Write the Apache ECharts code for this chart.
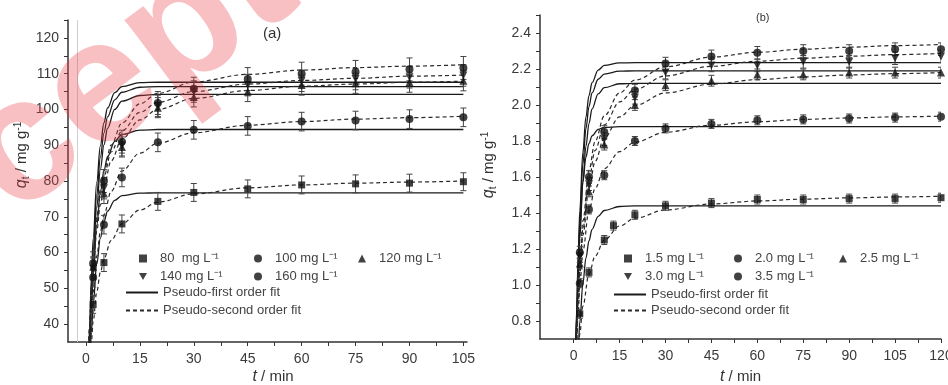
<!DOCTYPE html>
<html>
<head>
<meta charset="utf-8">
<title>Adsorption kinetics</title>
<script src="https://cdn.jsdelivr.net/npm/echarts@6/dist/echarts.min.js"></script>
<style>
  html, body { margin: 0; padding: 0; background: #fff; }
  #chart { width: 948px; height: 385px; }
</style>
</head>
<body>
<div id="chart"></div>
<script>
// ---- panel (a) : measured points ----
const timeA = [2, 5, 10, 20, 30, 45, 60, 75, 90, 105];
const namesA = ['80  mg L⁻¹', '100 mg L⁻¹', '120 mg L⁻¹', '140 mg L⁻¹', '160 mg L⁻¹'];
const qA80 = [45.5, 57.2, 68.0, 74.3, 76.8, 77.8, 78.9, 79.2, 79.4, 79.8];
const qA100 = [53.0, 67.8, 81.0, 90.8, 94.3, 95.4, 96.6, 96.9, 97.3, 97.8];
const qA120 = [56.0, 76.5, 89.5, 100.5, 103.5, 105.0, 106.8, 107.3, 107.6, 108.0];
const qA140 = [55.5, 78.0, 90.0, 101.0, 105.0, 106.8, 108.0, 108.5, 109.0, 109.5];
const qA160 = [57.0, 80.0, 91.0, 101.8, 105.8, 108.5, 110.0, 110.5, 111.2, 111.6];
const errA = [2.5, 2.6, 2.8, 3.0, 3.2];

// ---- panel (a) : fitted curves ----
const fitTimeA1 = [0.5, 1, 1.5, 2, 3, 4, 5, 6, 8, 10, 15, 20, 105];
const pfoA80 = [15.4, 27.8, 37.7, 45.5, 56.8, 64.0, 68.6, 71.6, 74.6, 75.9, 76.6, 76.7, 76.7];
const pfoA100 = [17.8, 32.4, 44.1, 53.6, 67.6, 76.8, 82.9, 86.8, 91.1, 93.0, 94.2, 94.4, 94.4];
const pfoA120 = [18.9, 34.4, 47.0, 57.4, 72.8, 83.2, 90.1, 94.7, 100.0, 102.3, 103.9, 104.2, 104.2];
const pfoA140 = [20.1, 36.5, 49.7, 60.4, 76.2, 86.6, 93.4, 97.9, 102.7, 104.8, 106.2, 106.4, 106.4];
const pfoA160 = [21.6, 39.0, 52.8, 63.8, 79.7, 89.8, 96.3, 100.4, 104.7, 106.4, 107.5, 107.6, 107.6];

const fitTimeA2 = [0.5, 1, 1.5, 2, 3, 4, 5, 7, 10, 15, 20, 30, 45, 60, 75, 90, 105];
const psoA80 = [16.3, 27.2, 35.0, 40.8, 49.0, 54.4, 58.3, 63.4, 68.0, 71.9, 74.1, 76.4, 78.1, 78.9, 79.4, 79.7, 80.0];
const psoA100 = [19.4, 32.4, 41.9, 49.0, 59.0, 65.8, 70.6, 77.1, 82.8, 87.8, 90.6, 93.5, 95.6, 96.6, 97.3, 97.7, 98.1];
const psoA120 = [22.0, 36.7, 47.1, 55.0, 66.0, 73.3, 78.6, 85.6, 91.7, 97.1, 100.0, 103.1, 105.3, 106.5, 107.1, 107.6, 107.9];
const psoA140 = [23.6, 39.0, 49.8, 57.8, 68.9, 76.1, 81.3, 88.1, 94.0, 99.2, 102.0, 105.0, 107.1, 108.1, 108.7, 109.3, 109.6];
const psoA160 = [23.8, 39.4, 50.4, 58.6, 70.0, 77.5, 82.9, 90.0, 96.2, 101.6, 104.5, 107.7, 109.8, 111.0, 111.7, 112.1, 112.5];

// ---- panel (b) : measured points ----
const timeB = [2, 5, 10, 13, 20, 30, 45, 60, 75, 90, 105, 120];
const namesB = ['1.5 mg L⁻¹', '2.0 mg L⁻¹', '2.5 mg L⁻¹', '3.0 mg L⁻¹', '3.5 mg L⁻¹'];
const qB15 = [0.84, 1.07, 1.25, 1.33, 1.39, 1.44, 1.455, 1.475, 1.475, 1.48, 1.48, 1.485];
const qB20 = [1.01, 1.42, 1.61, null, 1.80, 1.87, 1.895, 1.915, 1.92, 1.925, 1.93, 1.935];
const qB25 = [1.12, 1.52, 1.78, null, 2.00, 2.11, 2.135, 2.17, 2.17, 2.18, 2.18, 2.18];
const qB30 = [1.16, 1.56, 1.81, null, 2.04, 2.18, 2.22, 2.22, 2.24, 2.24, 2.26, 2.27];
const qB35 = [1.18, 1.60, 1.85, null, 2.08, 2.23, 2.27, 2.29, 2.30, 2.30, 2.31, 2.31];
const errB = [0.025, 0.025, 0.03, 0.035, 0.035];

// ---- panel (b) : fitted curves ----
const fitTimeB1 = [0.5, 1, 1.5, 2, 3, 4, 5, 6, 8, 10, 15, 20, 120];
const pfoB15 = [0.261, 0.475, 0.650, 0.793, 1.006, 1.149, 1.245, 1.309, 1.381, 1.414, 1.436, 1.44, 1.44];
const pfoB20 = [0.487, 0.848, 1.115, 1.314, 1.570, 1.709, 1.786, 1.829, 1.865, 1.875, 1.88, 1.88, 1.88];
const pfoB25 = [0.426, 0.767, 1.041, 1.257, 1.571, 1.770, 1.897, 1.978, 2.062, 2.096, 2.118, 2.12, 2.12];
const pfoB30 = [0.467, 0.835, 1.124, 1.351, 1.671, 1.868, 1.991, 2.067, 2.143, 2.172, 2.188, 2.19, 2.19];
const pfoB35 = [0.494, 0.879, 1.180, 1.413, 1.737, 1.933, 2.052, 2.124, 2.194, 2.220, 2.234, 2.235, 2.235];

const fitTimeB2 = [1, 1.5, 2, 3, 5, 7, 10, 15, 20, 30, 45, 60, 75, 90, 105, 120];
const psoB15 = [0.479, 0.621, 0.729, 0.882, 1.060, 1.160, 1.249, 1.328, 1.371, 1.417, 1.450, 1.467, 1.477, 1.484, 1.489, 1.493];
const psoB20 = [0.663, 0.852, 0.993, 1.189, 1.413, 1.537, 1.646, 1.741, 1.793, 1.849, 1.888, 1.907, 1.920, 1.928, 1.934, 1.938];
const psoB25 = [0.690, 0.895, 1.052, 1.276, 1.537, 1.686, 1.818, 1.934, 1.998, 2.067, 2.116, 2.141, 2.156, 2.167, 2.174, 2.180];
const psoB30 = [0.700, 0.913, 1.076, 1.311, 1.589, 1.748, 1.890, 2.017, 2.087, 2.162, 2.215, 2.243, 2.260, 2.271, 2.280, 2.286];
const psoB35 = [0.729, 0.948, 1.116, 1.356, 1.638, 1.798, 1.940, 2.067, 2.138, 2.212, 2.266, 2.293, 2.310, 2.321, 2.330, 2.336];

// ---- ticks ----
const xLabelsA = [0, 15, 30, 45, 60, 75, 90, 105];
const xTicksA = [0, 7.5, 15, 22.5, 30, 37.5, 45, 52.5, 60, 67.5, 75, 82.5, 90, 97.5, 105];
const yLabelsA = [40, 50, 60, 70, 80, 90, 100, 110, 120];
const yTicksA = [40, 45, 50, 55, 60, 65, 70, 75, 80, 85, 90, 95, 100, 105, 110, 115, 120, 125];
const xLabelsB = [0, 15, 30, 45, 60, 75, 90, 105, 120];
const xTicksB = [0, 7.5, 15, 22.5, 30, 37.5, 45, 52.5, 60, 67.5, 75, 82.5, 90, 97.5, 105, 112.5, 120];
const yLabelsB = [0.8, 1.0, 1.2, 1.4, 1.6, 1.8, 2.0, 2.2, 2.4];
const yTicksB = [0.8, 0.9, 1.0, 1.1, 1.2, 1.3, 1.4, 1.5, 1.6, 1.7, 1.8, 1.9, 2.0, 2.1, 2.2, 2.3, 2.4, 2.5];

const FONT = 'Liberation Sans';
const INK = '#111';
const PFO = 'Pseudo-first order fit';
const PSO = 'Pseudo-second order fit';
const DOWN_TRIANGLE = 'path://M0,0L10,0L5,9Z';
const symbols = [
  { symbol: 'rect', symbolSize: 7, symbolRotate: 0 },
  { symbol: 'circle', symbolSize: 8, symbolRotate: 0 },
  { symbol: 'triangle', symbolSize: 8, symbolRotate: 0 },
  { symbol: DOWN_TRIANGLE, symbolSize: 8, symbolRotate: 0 },
  { symbol: 'circle', symbolSize: 8, symbolRotate: 0 }
];

function zip(xs, ys) {
  return xs.map((x, i) => [x, ys[i]]).filter(d => d[1] != null);
}

function errorBar(params, api) {
  const x = api.value(0);
  const top = api.coord([x, api.value(2)]);
  const bot = api.coord([x, api.value(1)]);
  const w = 3;
  const style = { stroke: '#444', lineWidth: 1 };
  return {
    type: 'group',
    children: [
      { type: 'line', shape: { x1: top[0], y1: top[1], x2: bot[0], y2: bot[1] }, style },
      { type: 'line', shape: { x1: top[0] - w, y1: top[1], x2: top[0] + w, y2: top[1] }, style },
      { type: 'line', shape: { x1: bot[0] - w, y1: bot[1], x2: bot[0] + w, y2: bot[1] }, style }
    ]
  };
}

function fitLine(name, idx, xs, ys, dashed) {
  return {
    name, type: 'line', xAxisIndex: idx, yAxisIndex: idx,
    data: zip(xs, ys), symbol: 'none', showSymbol: false,
    smooth: 0.35, smoothMonotone: 'x', clip: true, silent: true, z: 2,
    itemStyle: { color: '#1a1a1a' },
    lineStyle: dashed ? { color: '#2a2a2a', width: 1.2, type: [4, 3] } : { color: '#1a1a1a', width: 1.3 }
  };
}

function panelSeries(idx, times, names, values, errs, ft1, pfo, ft2, pso) {
  const out = [];
  pfo.forEach(ys => out.push(fitLine(PFO, idx, ft1, ys, false)));
  pso.forEach(ys => out.push(fitLine(PSO, idx, ft2, ys, true)));
  values.forEach((ys, k) => {
    out.push({
      type: 'custom', xAxisIndex: idx, yAxisIndex: idx, silent: true, z: 3, clip: true,
      renderItem: errorBar, encode: { x: 0, y: [1, 2] },
      data: zip(times, ys).map(d => [d[0], d[1] - errs[k], d[1] + errs[k]])
    });
    out.push(Object.assign({
      name: names[k], type: 'scatter', xAxisIndex: idx, yAxisIndex: idx, z: 4, silent: true,
      itemStyle: { color: INK }, data: zip(times, ys)
    }, symbols[k]));
  });
  return out;
}

const seriesA = panelSeries(0, timeA, namesA, [qA80, qA100, qA120, qA140, qA160], errA,
  fitTimeA1, [pfoA80, pfoA100, pfoA120, pfoA140, pfoA160],
  fitTimeA2, [psoA80, psoA100, psoA120, psoA140, psoA160]);
// faint vertical guide line seen in panel (a)
seriesA[0].markLine = {
  silent: true, symbol: 'none', label: { show: false },
  lineStyle: { color: '#cfcfcf', width: 1, type: 'solid' },
  data: [{ xAxis: -2.3 }]
};
const seriesB = panelSeries(1, timeB, namesB, [qB15, qB20, qB25, qB30, qB35], errB,
  fitTimeB1, [pfoB15, pfoB20, pfoB25, pfoB30, pfoB35],
  fitTimeB2, [psoB15, psoB20, psoB25, psoB30, psoB35]);

const nameRich = {
  i: { fontStyle: 'italic', fontSize: 16, fontFamily: FONT, color: '#333', lineHeight: 18 },
  s: { fontSize: 10, fontFamily: FONT, color: '#333', verticalAlign: 'bottom', lineHeight: 18 },
  n: { fontSize: 15, fontFamily: FONT, color: '#333', lineHeight: 18 },
  p: { fontSize: 10, fontFamily: FONT, color: '#333', verticalAlign: 'top', lineHeight: 18 }
};

function xAxisOf(idx, min, max, labels, ticks, nameGap, pad) {
  return {
    type: 'value', gridIndex: idx, min, max,
    name: '{i|t}{n| / min}', nameLocation: 'middle', nameGap, nameMoveOverlap: false,
    nameTextStyle: { rich: nameRich, padding: [0, 0, 0, pad] },
    axisLine: { show: true, onZero: false, lineStyle: { color: '#333', width: 1.5 } },
    axisTick: { show: true, inside: false, length: 4, customValues: ticks, lineStyle: { color: '#333' } },
    axisLabel: { customValues: labels, margin: 10, fontSize: 14, color: '#3a3a3a', fontFamily: FONT },
    splitLine: { show: false }
  };
}

function yAxisOf(idx, min, max, labels, ticks, fmt, nameGap, pad) {
  return {
    type: 'value', gridIndex: idx, min, max,
    name: '{i|q}{s|t}{n| / mg g}{p|-1}', nameLocation: 'middle', nameGap, nameMoveOverlap: false,
    nameTextStyle: { rich: nameRich, padding: [0, 0, 0, pad] },
    axisLine: { show: true, onZero: false, lineStyle: { color: '#333', width: 1.5 } },
    axisTick: { show: true, inside: false, length: 4, customValues: ticks, lineStyle: { color: '#333' } },
    axisLabel: { customValues: labels, margin: 9, fontSize: 14, color: '#3a3a3a', fontFamily: FONT, formatter: fmt },
    splitLine: { show: false }
  };
}

// marker entries: 8px symbol, text pushed right to sit ~17px from the marker centre
function markerLegend(name, centre, top, icon) {
  return {
    data: [icon ? { name, icon } : name], left: centre - 4, top, padding: 0,
    itemWidth: 8, itemHeight: 8, itemGap: 0, selectedMode: false,
    textStyle: { fontSize: 13, color: '#444', fontFamily: FONT, padding: [0, 0, 0, 8] }
  };
}
// fit entries: plain line sample, no dot
function lineLegend(name, left, top) {
  return {
    data: [name], left, top, padding: 0, itemWidth: 32, itemHeight: 10, itemGap: 0,
    selectedMode: false, itemStyle: { opacity: 0 },
    textStyle: { fontSize: 13, color: '#444', fontFamily: FONT }
  };
}

const chart = echarts.init(document.getElementById('chart'));
chart.setOption({
  animation: false,
  backgroundColor: '#fff',
  textStyle: { fontFamily: FONT },
  title: [
    { text: '(a)', left: 263, top: 26, padding: 0, textStyle: { fontSize: 15, fontWeight: 'normal', color: '#333', fontFamily: FONT } },
    { text: '(b)', left: 756, top: 12, padding: 0, textStyle: { fontSize: 11, fontWeight: 'normal', color: '#333', fontFamily: FONT } }
  ],
  // fixed plot rectangles: do not let the grid shrink to fit labels and names
  grid: [
    { left: 68, top: 20, width: 399, height: 322, containLabel: false, outerBoundsMode: 'none' },
    { left: 540, top: 15, width: 401, height: 324, containLabel: false, outerBoundsMode: 'none' }
  ],
  xAxis: [
    xAxisOf(0, -5, 106, xLabelsA, xTicksA, 26, 11),
    xAxisOf(1, -11, 120, xLabelsB, xTicksB, 29, 0)
  ],
  yAxis: [
    yAxisOf(0, 35, 125, yLabelsA, yTicksA, v => String(v), 37, 52),
    yAxisOf(1, 0.7, 2.5, yLabelsB, yTicksB, v => v.toFixed(1), 42, 24)
  ],
  legend: [
    markerLegend(namesA[0], 143, 252),
    markerLegend(namesA[1], 258, 252),
    markerLegend(namesA[2], 362, 252),
    markerLegend(namesA[3], 143, 270, DOWN_TRIANGLE),
    markerLegend(namesA[4], 258, 270),
    lineLegend(PFO, 125, 286),
    lineLegend(PSO, 125, 304),
    markerLegend(namesB[0], 628, 252),
    markerLegend(namesB[1], 738, 252),
    markerLegend(namesB[2], 843, 252),
    markerLegend(namesB[3], 628, 270, DOWN_TRIANGLE),
    markerLegend(namesB[4], 738, 270),
    lineLegend(PFO, 613, 288),
    lineLegend(PSO, 613, 304)
  ],
  // "Accepted" manuscript watermark crossing the top left corner
  graphic: [{
    type: 'text', x: -196, y: 314, rotation: 0.64, z: 100, silent: true,
    style: {
      text: 'Accepted', fontSize: 176, fontWeight: 'bold', fontFamily: FONT,
      fill: 'rgba(236, 58, 72, 0.32)', align: 'left', verticalAlign: 'middle'
    }
  }],
  series: seriesA.concat(seriesB)
});
</script>
</body>
</html>
